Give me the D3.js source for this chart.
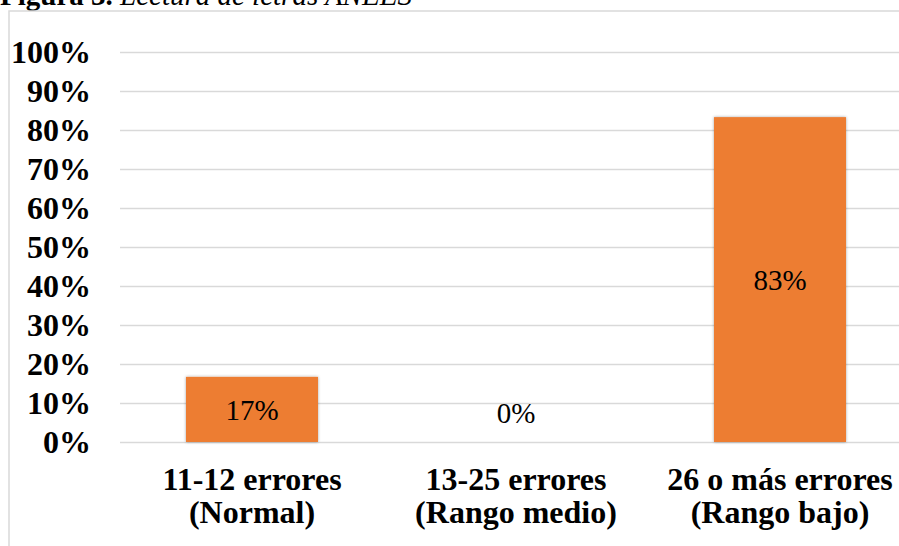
<!DOCTYPE html>
<html>
<head>
<meta charset="utf-8">
<script src="https://cdn.jsdelivr.net/npm/d3@7/dist/d3.min.js"></script>
<style>
  html, body { margin: 0; padding: 0; background: #fff; }
  svg { display: block; }
</style>
</head>
<body>
<svg id="chart" width="899" height="546"></svg>
<script>
const categories = [
  ["11-12 errores", "(Normal)"],
  ["13-25 errores", "(Rango medio)"],
  ["26 o más errores", "(Rango bajo)"]
];
const values = [0.167, 0, 0.833];
const yTicks = [0, 0.1, 0.2, 0.3, 0.4, 0.5, 0.6, 0.7, 0.8, 0.9, 1.0];
const titleBold = "Figura 3.";
const titleItalic = " Lectura de letras ANEES";

(function () {
const svg = d3.select("#chart");
const W = 899, H = 546;
const pLeft = 120, pRight = 912, pTop = 52, pBottom = 442;
const font = "'Liberation Serif', 'Times New Roman', serif";

const defs = svg.append("defs");
const f = defs.append("filter").attr("id", "shadow")
  .attr("x", "-10%").attr("y", "-10%").attr("width", "120%").attr("height", "120%");
f.append("feDropShadow").attr("dx", 0).attr("dy", 0).attr("stdDeviation", 1.6)
  .attr("flood-color", "#000").attr("flood-opacity", 0.35);

// Title (cropped at top, as in the reference)
const title = svg.append("text")
  .attr("x", 0).attr("y", 5)
  .attr("font-family", font).attr("font-size", 29).attr("fill", "#000");
title.append("tspan").attr("font-weight", "bold").text(titleBold);
title.append("tspan").attr("font-style", "italic").text(titleItalic);

// Chart frame
svg.append("rect")
  .attr("x", 9).attr("y", 11).attr("width", W + 20).attr("height", H + 20)
  .attr("fill", "#fff").attr("stroke", "#d9d9d9").attr("stroke-width", 1.5);

const x = d3.scaleBand().domain(d3.range(categories.length))
  .range([pLeft, pRight]).paddingInner(0.5).paddingOuter(0.25);
const y = d3.scaleLinear().domain([0, 1]).range([pBottom, pTop]);
const fmt = d3.format(".0%");

// Y axis with gridlines
const yAxis = d3.axisLeft(y).tickValues(yTicks).tickFormat(fmt)
  .tickSize(-(pRight - pLeft)).tickPadding(29);
const gy = svg.append("g").attr("transform", `translate(${pLeft},0)`).call(yAxis);
gy.select(".domain").remove();
gy.selectAll(".tick line").attr("stroke", "#d9d9d9").attr("stroke-width", 1.5);
gy.selectAll(".tick text")
  .attr("font-family", font).attr("font-size", 32).attr("font-weight", "bold")
  .attr("fill", "#000").attr("dy", "0.33em");

// Bars
svg.append("g").selectAll("rect").data(values).join("rect")
  .attr("x", (d, i) => x(i))
  .attr("y", d => y(d))
  .attr("width", x.bandwidth())
  .attr("height", d => y(0) - y(d))
  .attr("fill", "#ED7D31")
  .attr("filter", "url(#shadow)");

// Data labels
svg.append("g").selectAll("text").data(values).join("text")
  .attr("x", (d, i) => x(i) + x.bandwidth() / 2)
  .attr("y", d => d > 0 ? y(d / 2) : y(0) - 29)
  .attr("dy", "0.35em")
  .attr("text-anchor", "middle")
  .attr("font-family", font).attr("font-size", 29).attr("fill", "#000")
  .text(d => fmt(d));

// Category labels
const cat = svg.append("g").selectAll("text").data(categories).join("text")
  .attr("text-anchor", "middle")
  .attr("font-family", font).attr("font-size", 32).attr("font-weight", "bold")
  .attr("fill", "#000");
cat.each(function (d, i) {
  const t = d3.select(this);
  d.forEach((line, j) => {
    t.append("tspan")
      .attr("x", x(i) + x.bandwidth() / 2)
      .attr("y", 490 + j * 33)
      .text(line);
  });
});
})();
</script>
</body>
</html>
